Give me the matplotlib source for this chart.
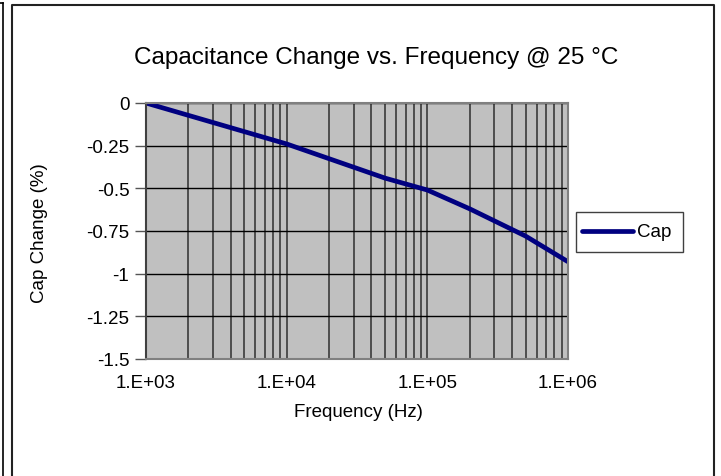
import matplotlib
matplotlib.use("Agg")
import matplotlib.pyplot as plt
from matplotlib.lines import Line2D
from matplotlib.patches import Rectangle
from matplotlib.ticker import FixedLocator, NullFormatter, LogLocator

plt.rcParams['font.family'] = ['Liberation Sans', 'DejaVu Sans']

freq = [1e3, 1e4, 5e4, 1e5, 2e5, 5e5, 1e6]
cap_change = [0.0, -0.24, -0.44, -0.51, -0.62, -0.78, -0.93]
x_ticks = [1e3, 1e4, 1e5, 1e6]
x_tick_labels = ["1.E+03", "1.E+04", "1.E+05", "1.E+06"]
y_ticks = [0, -0.25, -0.5, -0.75, -1, -1.25, -1.5]
y_tick_labels = ["0", "-0.25", "-0.5", "-0.75", "-1", "-1.25", "-1.5"]

W, H = 721, 477
fig = plt.figure(figsize=(W / 100, H / 100), dpi=100)

left, right, top, bottom = 146, 568, 104, 360
ax = fig.add_axes([left / W, 1 - bottom / H, (right - left) / W, (bottom - top) / H])
ax.set_facecolor('#c0c0c0')
ax.set_xscale('log')
ax.set_xlim(1e3, 1e6)
ax.set_ylim(-1.5, 0)

ax.xaxis.set_major_locator(FixedLocator(x_ticks))
ax.set_xticks(x_ticks)
ax.set_xticklabels(x_tick_labels)
ax.xaxis.set_minor_locator(LogLocator(base=10, subs=range(2, 10), numticks=20))
ax.xaxis.set_minor_formatter(NullFormatter())
ax.set_yticks(y_ticks)
ax.set_yticklabels(y_tick_labels)

ax.grid(True, axis='x', which='both', color='#3a3a3a', linewidth=1.2)
ax.grid(True, axis='y', which='major', color='black', linewidth=1.0)
ax.set_axisbelow(True)

ax.tick_params(axis='x', which='both', length=0, labelsize=13.5, pad=11)
ax.tick_params(axis='y', length=8, width=1, color='#555555', labelsize=13.5, pad=4, direction='out')

for s in ax.spines.values():
    s.set_color('#808080')
    s.set_linewidth(1.5)
ax.spines['left'].set_color('#404040')

ax.plot(freq, cap_change, color='#000080', linewidth=3.4, solid_capstyle='butt', label='Cap', clip_on=True)

fig.text(376 / W, 1 - 58 / H, "Capacitance Change vs. Frequency @ 25 °C", ha='center', va='center', fontsize=17.5)
fig.text(358 / W, 1 - 413 / H, "Frequency (Hz)", ha='center', va='center', fontsize=13.5)
fig.text(40 / W, 1 - 233 / H, "Cap Change (%)", ha='center', va='center', rotation=90, fontsize=13.5)

# Legend box drawn manually in figure pixel coords
lx0, ly0, lx1, ly1 = 576, 213, 683, 253
fig.add_artist(Rectangle((lx0 / W, 1 - ly1 / H), (lx1 - lx0) / W, (ly1 - ly0) / H,
                         transform=fig.transFigure, facecolor='white', edgecolor='#404040', linewidth=1.0))
fig.add_artist(Line2D([582 / W, 633 / W], [1 - 232 / H, 1 - 232 / H], transform=fig.transFigure,
                      color='#000080', linewidth=3.4, solid_capstyle='round'))
fig.text(637 / W, 1 - 233 / H, "Cap", ha='left', va='center', fontsize=13.5)

# Outer chart frames
fig.add_artist(Line2D([11.5 / W, 11.5 / W, 713.5 / W, 713.5 / W], [0, 1 - 6 / H, 1 - 6 / H, 0],
                      transform=fig.transFigure, color='#222222', linewidth=1.5))
fig.add_artist(Line2D([2.5 / W, 2.5 / W], [0, 1 - 4 / H], transform=fig.transFigure, color='black', linewidth=1.2))
fig.add_artist(Line2D([0, 2.5 / W], [1 - 4 / H, 1 - 4 / H], transform=fig.transFigure, color='black', linewidth=1.2))

fig.savefig('out.png', dpi=100)
